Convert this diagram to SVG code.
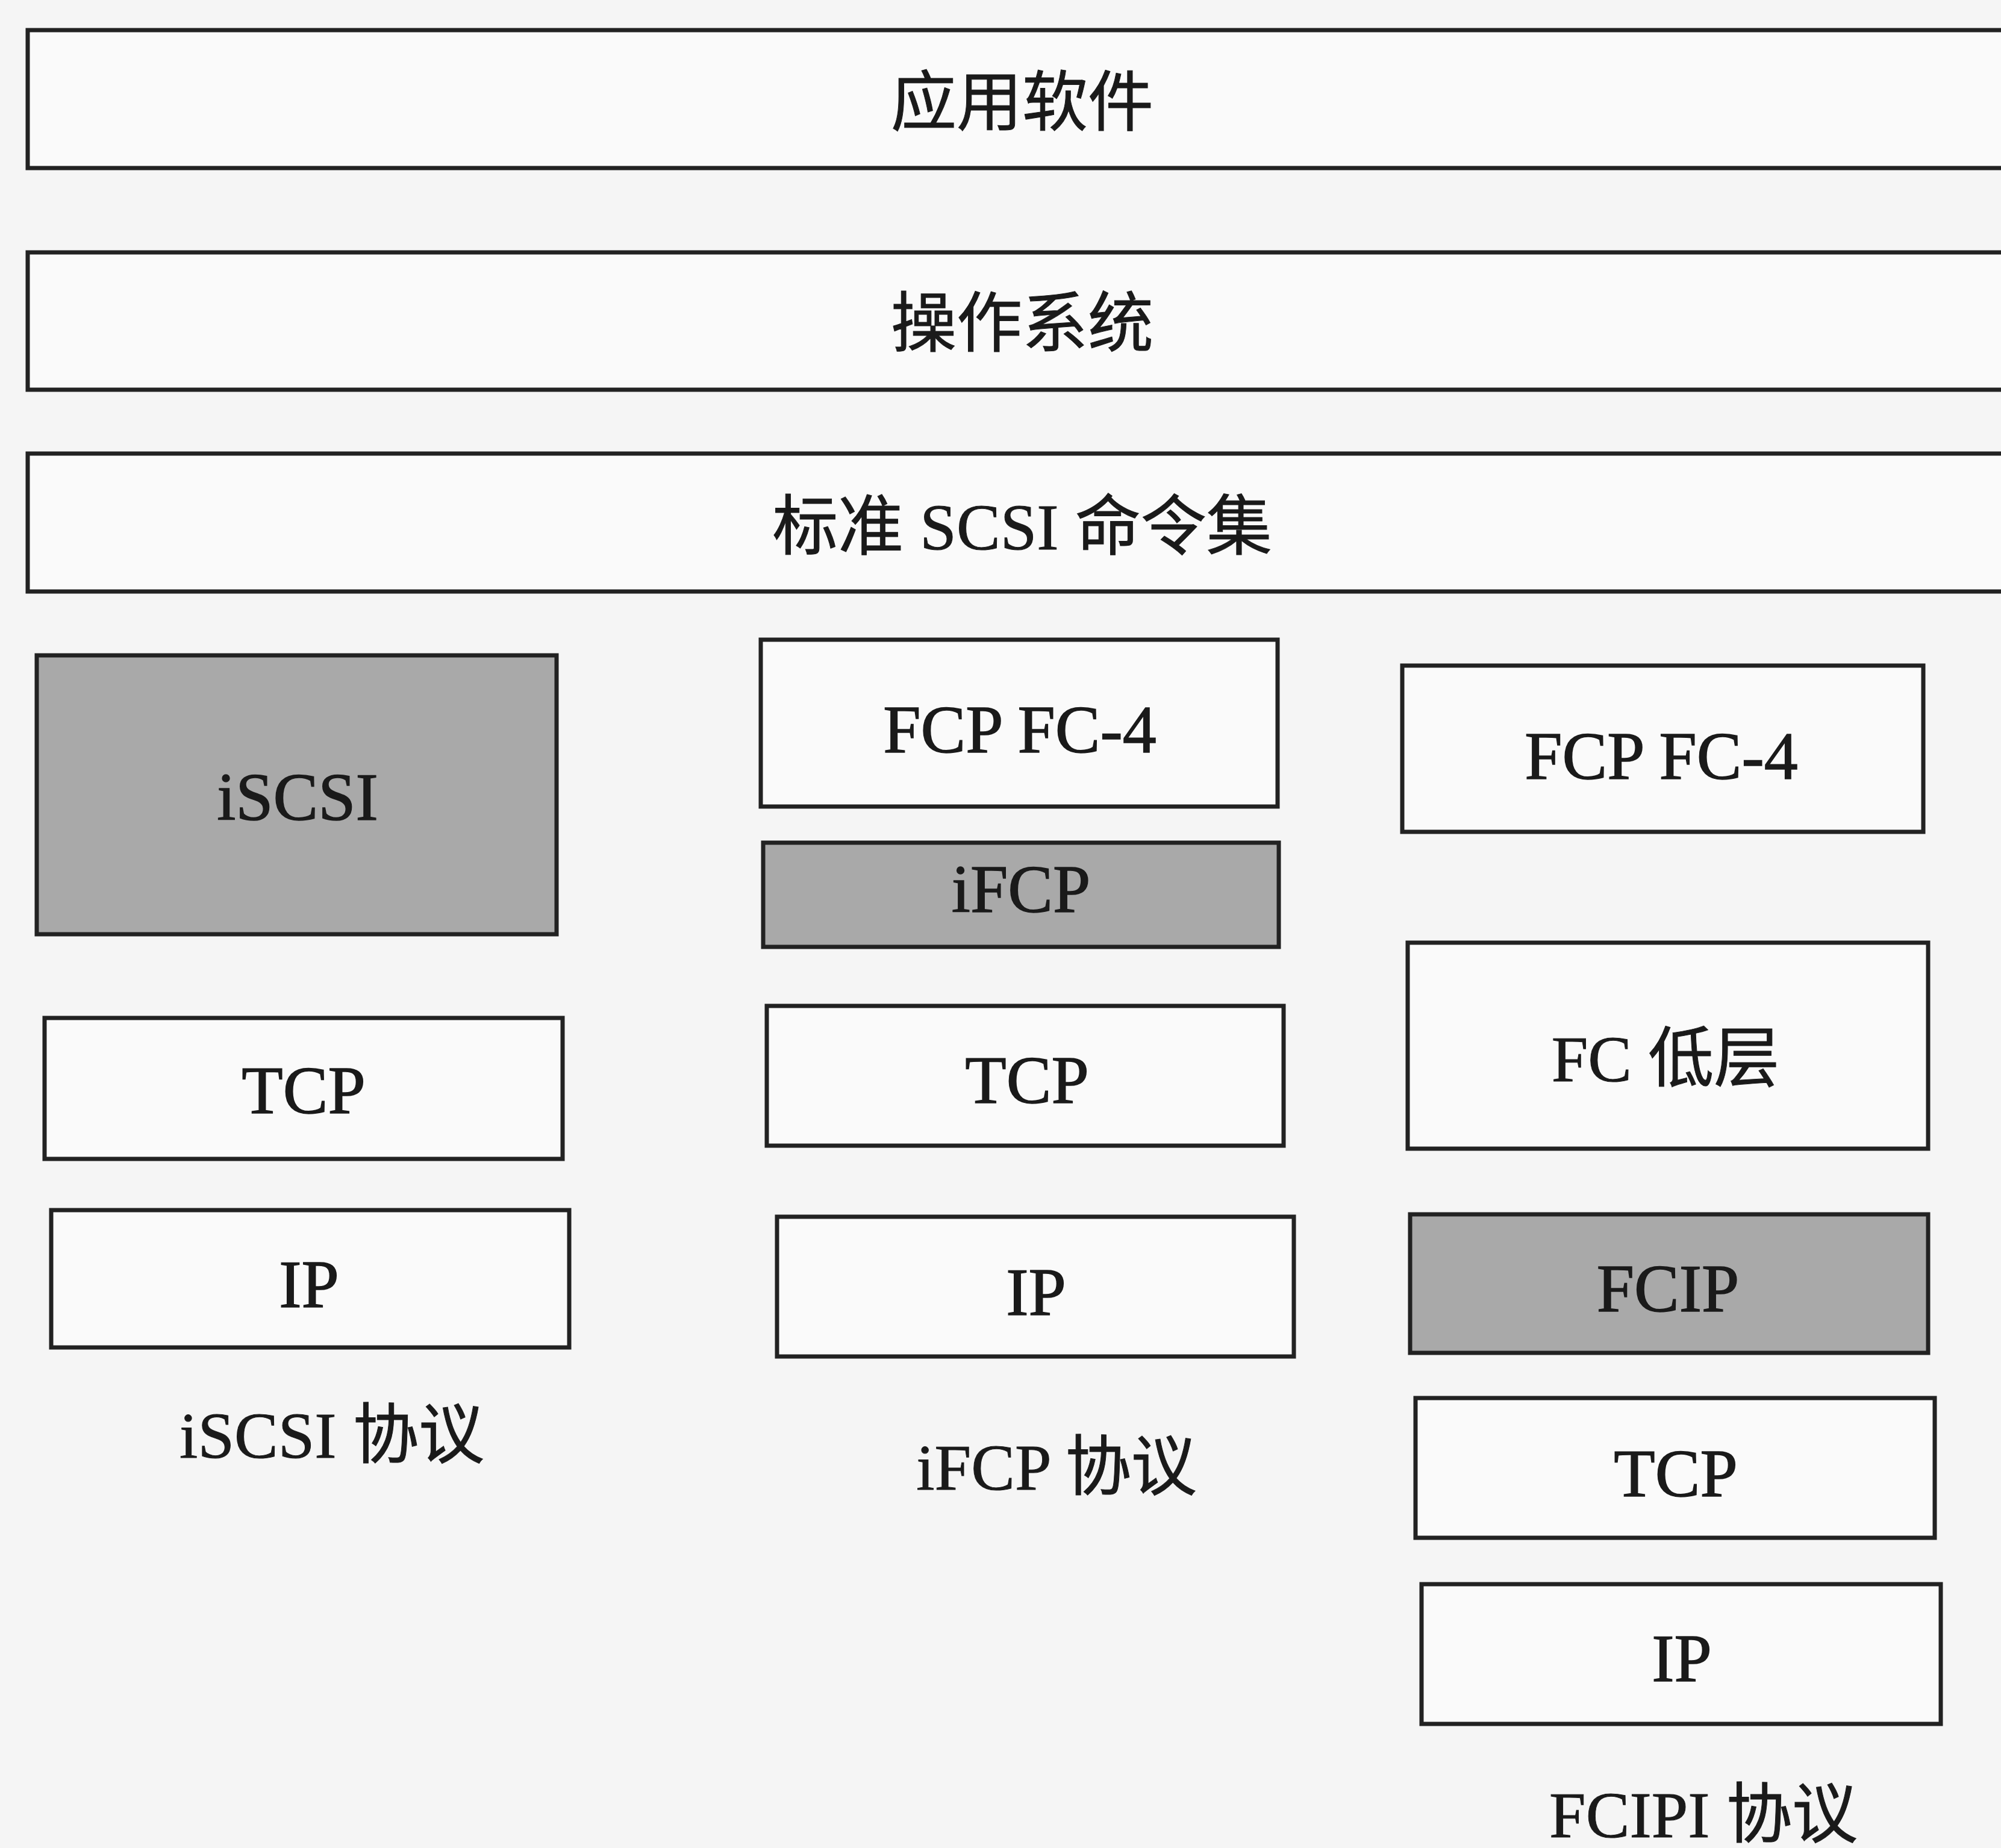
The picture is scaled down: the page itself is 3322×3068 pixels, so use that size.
<svg xmlns="http://www.w3.org/2000/svg" width="3322" height="3068" viewBox="0 0 3322 3068">
<style>
.box{fill:#fafafa;stroke:#222222;stroke-width:7}
.gray{fill:#a9a9a9;stroke:#222222;stroke-width:7}
.t{font-family:"Liberation Serif","Noto Sans CJK SC",serif;font-size:112px;fill:#1a1a1a;stroke:#1a1a1a;stroke-width:1.5;text-anchor:middle}
.c{font-family:"Liberation Serif","Noto Sans CJK SC",serif;font-size:109px;fill:#1a1a1a;stroke:#1a1a1a;stroke-width:1;text-anchor:middle}
</style>
<rect x="0" y="0" width="3322" height="3068" fill="#f5f5f5"/>
<g id="app"><rect class="box" x="46" y="50" width="3300" height="229"/><text class="c" x="1697" y="208">应用软件</text></g>
<g id="os"><rect class="box" x="46" y="419" width="3300" height="228"/><text class="c" x="1697" y="575">操作系统</text></g>
<g id="scsi"><rect class="box" x="46" y="753" width="3300" height="229"/><text class="c" x="1697" y="912">标准 SCSI 命令集</text></g>

<g id="iscsi-col">
<g id="iscsi"><rect class="gray" x="61" y="1088" width="863" height="463"/><text class="t" x="494" y="1361">iSCSI</text></g>
<g id="tcp1"><rect class="box" x="74" y="1690" width="860" height="234"/><text class="t" x="504" y="1848">TCP</text></g>
<g id="ip1"><rect class="box" x="85" y="2009" width="860" height="228"/><text class="t" x="513" y="2170">IP</text></g>
<text class="c" x="551" y="2420">iSCSI 协议</text>
</g>

<g id="ifcp-col">
<g id="fcp2"><rect class="box" x="1263" y="1062" width="858" height="277"/><text class="t" x="1693" y="1249">FCP FC-4</text></g>
<g id="ifcp"><rect class="gray" x="1267" y="1399" width="856" height="173"/><text class="t" x="1695" y="1514">iFCP</text></g>
<g id="tcp2"><rect class="box" x="1273" y="1670" width="858" height="232"/><text class="t" x="1705" y="1831">TCP</text></g>
<g id="ip2"><rect class="box" x="1290" y="2020" width="858" height="232"/><text class="t" x="1720" y="2183">IP</text></g>
<text class="c" x="1754" y="2473">iFCP 协议</text>
</g>

<g id="fcip-col">
<g id="fcp3"><rect class="box" x="2328" y="1105" width="865" height="276"/><text class="t" x="2758" y="1293">FCP FC-4</text></g>
<g id="fclow"><rect class="box" x="2337" y="1565" width="864" height="342"/><text class="c" x="2765" y="1795">FC 低层</text></g>
<g id="fcip"><rect class="gray" x="2341" y="2016" width="860" height="230"/><text class="t" x="2769" y="2177">FCIP</text></g>
<g id="tcp3"><rect class="box" x="2350" y="2321" width="862" height="232"/><text class="t" x="2782" y="2484">TCP</text></g>
<g id="ip3"><rect class="box" x="2360" y="2630" width="862" height="232"/><text class="t" x="2792" y="2791">IP</text></g>
<text class="c" x="2828" y="3050">FCIPI 协议</text>
</g>
<g id="connectors"/>
</svg>
